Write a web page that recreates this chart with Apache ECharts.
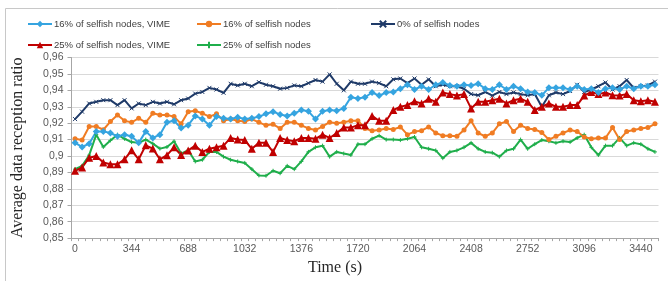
<!DOCTYPE html>
<html>
<head>
<meta charset="utf-8">
<script src="https://cdn.jsdelivr.net/npm/echarts@6/dist/echarts.min.js"></script>
<style>
html, body { margin: 0; padding: 0; background: #fff; }
#chart { width: 668px; height: 281px; }
</style>
</head>
<body>
<div id="chart"></div>
<script>
// time axis: one sample every 43 s, label every 344 s
var step = 43;
var times = [];
for (var t = 0; t <= 3526; t += step) times.push(String(t));

var vime16 = [
  0.908, 0.9055, 0.9075, 0.915, 0.915, 0.914, 0.912, 0.913, 0.912, 0.908,
  0.915, 0.911, 0.913, 0.9206, 0.9215, 0.917, 0.9188, 0.9244, 0.9225, 0.9188,
  0.924, 0.923, 0.9225, 0.9236, 0.9225, 0.923, 0.924, 0.9257, 0.927, 0.9253,
  0.9244, 0.926, 0.928, 0.9272, 0.9225, 0.9272, 0.928, 0.9276, 0.929, 0.9358,
  0.935, 0.9358, 0.9387, 0.9368, 0.9387, 0.939, 0.941, 0.9434, 0.9405, 0.9425,
  0.9405, 0.9434, 0.9448, 0.943, 0.9425, 0.9434, 0.943, 0.944, 0.941, 0.9405,
  0.9434, 0.9405, 0.9425, 0.941, 0.939, 0.9387, 0.937, 0.9415, 0.9415, 0.9415,
  0.9405, 0.9425, 0.9405, 0.941, 0.9387, 0.941, 0.9415, 0.9405, 0.9425, 0.941,
  0.9425, 0.9425, 0.9434
];
var selfish16 = [
  0.9105, 0.9097, 0.918, 0.918, 0.916, 0.921, 0.925, 0.9215, 0.9205, 0.923,
  0.9205, 0.926, 0.925, 0.925, 0.924, 0.9196, 0.927, 0.9276, 0.926, 0.924,
  0.9257, 0.9215, 0.9225, 0.9215, 0.921, 0.9225, 0.9205, 0.9187, 0.9193, 0.9168,
  0.9206, 0.9206, 0.9187, 0.9168, 0.9158, 0.918, 0.9206, 0.92, 0.9206, 0.9215,
  0.9215, 0.9168, 0.9154, 0.9158, 0.9168, 0.9162, 0.9177, 0.913, 0.9149, 0.9154,
  0.9177, 0.914, 0.9124, 0.9124, 0.912, 0.9158, 0.9215, 0.914, 0.912, 0.914,
  0.9196, 0.921, 0.9149, 0.9187, 0.9168, 0.9162, 0.9143, 0.910, 0.912, 0.914,
  0.9158, 0.9149, 0.9116, 0.9105, 0.911, 0.911, 0.9173, 0.910, 0.9149, 0.9158,
  0.9168, 0.9173, 0.9196
];
var selfish0 = [
  0.9225, 0.927, 0.932, 0.933, 0.934, 0.934, 0.931, 0.934, 0.929, 0.932,
  0.931, 0.933, 0.932, 0.933, 0.9315, 0.934, 0.935, 0.938, 0.939, 0.9415,
  0.9405, 0.9385, 0.944, 0.943, 0.944, 0.9425, 0.945, 0.9434, 0.9425, 0.941,
  0.9415, 0.943, 0.9425, 0.9444, 0.9463, 0.9453, 0.9497, 0.944, 0.940, 0.9453,
  0.944, 0.944, 0.9453, 0.9444, 0.9425, 0.9467, 0.9472, 0.9444, 0.9472, 0.9434,
  0.9467, 0.9425, 0.9434, 0.9425, 0.9425, 0.941, 0.9377, 0.937, 0.939, 0.9368,
  0.939, 0.9377, 0.9387, 0.9377, 0.937, 0.9377, 0.930, 0.937, 0.9387, 0.9377,
  0.9396, 0.9434, 0.939, 0.9405, 0.9425, 0.9448, 0.9405, 0.9425, 0.9463, 0.9415,
  0.9425, 0.943, 0.9453
];
var vime25 = [
  0.891, 0.893, 0.899, 0.900, 0.896, 0.895, 0.895, 0.898, 0.9035, 0.898,
  0.9065, 0.9045, 0.898, 0.9005, 0.9053, 0.9006, 0.9034, 0.9063, 0.9025, 0.9044,
  0.9053, 0.9063, 0.911, 0.910, 0.9097, 0.9044, 0.908, 0.908, 0.9025, 0.911,
  0.9097, 0.909, 0.911, 0.911, 0.9105, 0.913, 0.911, 0.914, 0.9173, 0.9173,
  0.9187, 0.9187, 0.9244, 0.9215, 0.9215, 0.928, 0.930, 0.931, 0.9333, 0.932,
  0.9348, 0.933, 0.9387, 0.9377, 0.9368, 0.9377, 0.929, 0.933, 0.933, 0.934,
  0.9349, 0.932, 0.934, 0.9349, 0.933, 0.928, 0.930, 0.932, 0.930, 0.930,
  0.931, 0.931, 0.9368, 0.939, 0.9377, 0.9387, 0.937, 0.9368, 0.9377, 0.934,
  0.9333, 0.934, 0.933
];
var selfish25 = [
  0.892, 0.894, 0.9005, 0.913, 0.9055, 0.9095, 0.913, 0.9105, 0.9085, 0.908,
  0.910, 0.9075, 0.9045, 0.9055, 0.909, 0.9015, 0.9035, 0.8967, 0.8977, 0.9025,
  0.9025, 0.8996, 0.8977, 0.8967, 0.8958, 0.892, 0.8882, 0.888, 0.891, 0.8895,
  0.894, 0.892, 0.8967, 0.9025, 0.9053, 0.9063, 0.8996, 0.9025, 0.9015, 0.9006,
  0.9072, 0.9072, 0.9105, 0.9124, 0.910, 0.910, 0.9097, 0.9105, 0.9116, 0.9053,
  0.9044, 0.9034, 0.8987, 0.9025, 0.9034, 0.9053, 0.908, 0.9044, 0.9025, 0.902,
  0.8996, 0.9034, 0.9044, 0.910, 0.9044, 0.9072, 0.9097, 0.909, 0.908, 0.909,
  0.9085, 0.911, 0.913, 0.9053, 0.9006, 0.9063, 0.9063, 0.911, 0.9063, 0.908,
  0.9072, 0.9044, 0.9025
];

var names = [
  '16% of selfish nodes, VIME',
  '16% of selfish nodes',
  '0% of selfish nodes',
  '25% of selfish nodes, VIME',
  '25% of selfish nodes'
];

var sans = '"Liberation Sans", Arial, sans-serif';
var serif = '"Liberation Serif", "Times New Roman", serif';
var crossPath = 'path://M0,0L10,10M10,0L0,10';
var plusPath = 'path://M5,0L5,10M0,5L10,5';

function legendAt(name, left, top) {
  return {
    data: [name], left: left, top: top,
    itemWidth: 24, itemHeight: 8, itemGap: 2,
    textStyle: { fontFamily: sans, fontSize: 9.5, color: '#404040', padding: [0, 0, 0, -3] }
  };
}

function lineSeries(name, data, color, symbol, size, stroke) {
  return {
    name: name, type: 'line', data: data,
    symbol: symbol, symbolSize: size, showAllSymbol: true,
    lineStyle: { color: color, width: 2 },
    itemStyle: stroke
      ? { color: color, borderColor: color, borderWidth: 1 }
      : { color: color, borderWidth: 0 },
    animation: false
  };
}

var chart = echarts.init(document.getElementById('chart'), null, { renderer: 'canvas' });
chart.setOption({
  backgroundColor: '#fff',
  graphic: [{
    type: 'rect', silent: true,
    shape: { x: 5.5, y: 8.5, width: 700, height: 300 },
    style: { fill: 'none', stroke: '#c8c8c8', lineWidth: 1 }
  }],
  legend: [
    legendAt(names[0], 22, 14),
    legendAt(names[1], 191, 14),
    legendAt(names[2], 365, 14),
    legendAt(names[3], 22, 35),
    legendAt(names[4], 191, 35)
  ],
  grid: { left: 71.5, top: 57.5, right: 9.5, bottom: 30.5, containLabel: false },
  xAxis: {
    type: 'category', data: times, boundaryGap: true,
    name: 'Time (s)', nameLocation: 'middle', nameGap: 20,
    nameTextStyle: { fontFamily: serif, fontSize: 16, color: '#262626', padding: [0, 60, 0, 0] },
    axisLine: { lineStyle: { color: '#a6a6a6' } },
    axisTick: { show: true, interval: 0, length: 3, lineStyle: { color: '#a6a6a6' } },
    axisLabel: { interval: 7, margin: 6, fontFamily: sans, fontSize: 10.5, color: '#595959' },
    splitLine: { show: false }
  },
  yAxis: {
    type: 'value', min: 0.85, max: 0.96, interval: 0.01,
    name: 'Average data reception ratio', nameLocation: 'middle', nameGap: 46,
    nameTextStyle: { fontFamily: serif, fontSize: 16, color: '#262626' },
    axisLine: { show: true, lineStyle: { color: '#a6a6a6' } },
    axisTick: { show: true, length: 4, lineStyle: { color: '#a6a6a6' } },
    axisLabel: {
      margin: 8, fontFamily: sans, fontSize: 10.5, color: '#595959',
      formatter: function (v) { return String(+v.toFixed(2)).replace('.', ','); }
    },
    splitLine: { lineStyle: { color: '#d9d9d9', width: 1 } }
  },
  series: [
    lineSeries(names[2], selfish0, '#1f3a68', crossPath, 4, true),
    lineSeries(names[4], selfish25, '#1fae4b', plusPath, 4, true),
    lineSeries(names[1], selfish16, '#f07c23', 'circle', 5, false),
    lineSeries(names[3], vime25, '#c00000', 'triangle', 8, false),
    lineSeries(names[0], vime16, '#35a4e0', 'diamond', 7, false)
  ]
});
</script>
</body>
</html>
